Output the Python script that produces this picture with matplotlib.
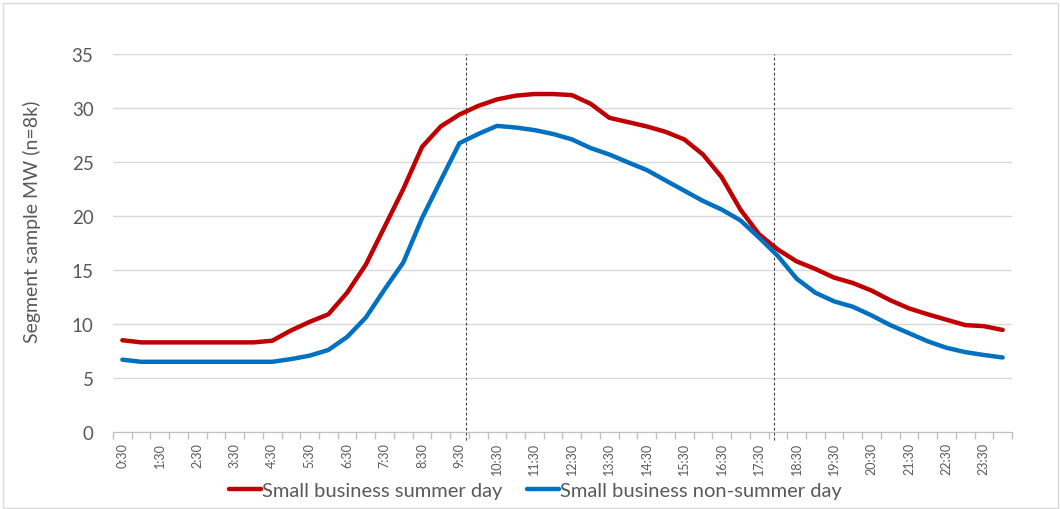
import matplotlib
matplotlib.use('Agg')
import matplotlib.pyplot as plt
from matplotlib.patches import Rectangle

plt.rcParams['font.family'] = ['Lato', 'DejaVu Sans']

# half-hour intervals, ending 0:30 ... 24:00
times = ['%d:%02d' % divmod(30 * (i + 1), 60) for i in range(48)]

summer = [8.5, 8.3, 8.3, 8.3, 8.3, 8.3, 8.3, 8.3, 8.45, 9.4,
          10.2, 10.9, 12.9, 15.5, 19.0, 22.5, 26.4, 28.3, 29.4, 30.2,
          30.8, 31.15, 31.3, 31.3, 31.2, 30.4, 29.1, 28.7, 28.3, 27.8,
          27.1, 25.7, 23.6, 20.6, 18.3, 16.9, 15.8, 15.1, 14.3, 13.8,
          13.1, 12.2, 11.45, 10.9, 10.4, 9.9, 9.8, 9.45]

non_summer = [6.7, 6.5, 6.5, 6.5, 6.5, 6.5, 6.5, 6.5, 6.5, 6.75,
              7.07, 7.6, 8.8, 10.6, 13.2, 15.7, 19.8, 23.3, 26.75, 27.6,
              28.35, 28.2, 27.96, 27.6, 27.1, 26.3, 25.7, 24.97, 24.26, 23.3,
              22.35, 21.4, 20.6, 19.6, 18.0, 16.3, 14.2, 12.9, 12.1, 11.6,
              10.8, 9.9, 9.15, 8.4, 7.8, 7.4, 7.13, 6.9]

# business-hours markers (between 9:30 and 10:00, and 17:30 and 18:00)
markers = [18.35, 34.8]

x = list(range(len(times)))

fig = plt.figure(figsize=(10.6, 5.1), dpi=100)
ax = fig.add_axes([0.1066, 0.151, 0.8481, 0.741])

ax.plot(x, summer, color='#C00000', lw=3.2, solid_capstyle='round',
        label='Small business summer day')
ax.plot(x, non_summer, color='#0070C0', lw=3.2, solid_capstyle='round',
        label='Small business non-summer day')

for m in markers:
    ax.axvline(m, ymin=-0.02, ymax=1, color='#404040', lw=0.8,
               ls=(0, (2.5, 2)), clip_on=False, zorder=1)

ax.set_xlim(-0.5, 47.5)
ax.set_ylim(0, 35)
ax.set_yticks(range(0, 36, 5))
ax.yaxis.grid(True, color='#d9d9d9', lw=1)
ax.set_axisbelow(True)

ax.set_xticks(x[::2])
ax.set_xticklabels(times[::2], rotation=90, fontsize=9, color='#595959')
ax.set_xticks([i - 0.5 for i in range(49)], minor=True)
ax.tick_params(axis='x', which='major', length=0, pad=7)
ax.tick_params(axis='x', which='minor', length=5, color='#bfbfbf', width=1)
ax.tick_params(axis='y', length=0, labelsize=13.5, labelcolor='#595959', pad=14)

for s in ['top', 'right', 'left']:
    ax.spines[s].set_visible(False)
ax.spines['bottom'].set_color('#bfbfbf')

ax.set_ylabel('Segment sample MW (n=8k)', fontsize=14, color='#595959')
ax.yaxis.set_label_coords(-0.08, 0.56)

fig.legend(loc='center', bbox_to_anchor=(0.505, 0.037), ncol=2,
           frameon=False, fontsize=14.5, handlelength=1.6, handletextpad=0.05,
           columnspacing=1.2, labelcolor='#595959')

fig.patches.append(Rectangle((0.003, 0.002), 0.995, 0.99, transform=fig.transFigure,
                             fill=False, edgecolor='#d9d9d9', lw=1))

fig.savefig('out.png', dpi=100)
